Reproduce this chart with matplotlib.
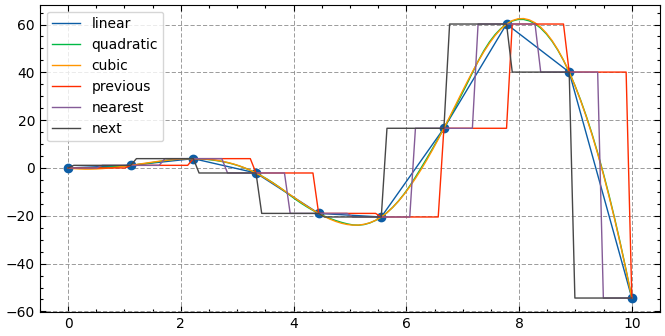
import numpy as np
import matplotlib
matplotlib.use("Agg")
import matplotlib.pyplot as plt
from matplotlib.ticker import MultipleLocator

# data points
x = np.linspace(0, 10, 10)
y = np.array([0.0, 1.1, 3.9, -2.1, -19.0, -20.5, 16.6, 60.2, 40.1, -54.4])
xnew = np.linspace(0, 10, 100)

labels = ["linear", "quadratic", "cubic", "previous", "nearest", "next"]
colors = ["#0C5DA5", "#00B945", "#FF9500", "#FF2C00", "#845B97", "#474747"]


def bspl_matrix(t, k, xs):
    xs = np.asarray(xs, float)
    B = np.zeros((len(xs), len(t) - 1))
    for i in range(len(t) - 1):
        if t[i] < t[i + 1]:
            B[:, i] = ((xs >= t[i]) & (xs < t[i + 1])).astype(float)
    last = np.max(np.nonzero(t[:-1] < t[1:])[0])
    B[xs >= t[-1], last] = 1.0
    for d in range(1, k + 1):
        Bn = np.zeros((len(xs), len(t) - 1 - d))
        for i in range(len(t) - 1 - d):
            den1 = t[i + d] - t[i]
            den2 = t[i + d + 1] - t[i + 1]
            term = np.zeros(len(xs))
            if den1 > 0:
                term += (xs - t[i]) / den1 * B[:, i]
            if den2 > 0:
                term += (t[i + d + 1] - xs) / den2 * B[:, i + 1]
            Bn[:, i] = term
        B = Bn
    return B


def spline(xd, yd, k, xs):
    if k == 2:
        tm = (xd[1:] + xd[:-1]) / 2.0
        t = np.r_[(xd[0],) * 3, tm[1:-1], (xd[-1],) * 3]
    else:
        t = np.r_[(xd[0],) * 4, xd[2:-2], (xd[-1],) * 4]
    A = bspl_matrix(t, k, xd)
    c = np.linalg.solve(A, yd)
    return bspl_matrix(t, k, xs) @ c


def previous(xd, yd, xs):
    xsh = np.nextafter(xd, -np.inf)
    idx = np.searchsorted(xsh, xs, side="left").clip(1, len(xd))
    return yd[idx - 1]


def nxt(xd, yd, xs):
    xsh = np.nextafter(xd, np.inf)
    idx = np.searchsorted(xsh, xs, side="right").clip(0, len(xd) - 1)
    return yd[idx]


def nearest(xd, yd, xs):
    bds = (xd[1:] + xd[:-1]) / 2.0
    idx = np.searchsorted(bds, xs, side="left").clip(0, len(xd) - 1)
    return yd[idx]


curves = [
    np.interp(xnew, x, y),
    spline(x, y, 2, xnew),
    spline(x, y, 3, xnew),
    previous(x, y, xnew),
    nearest(x, y, xnew),
    nxt(x, y, xnew),
]

fig = plt.figure(figsize=(6.65, 3.36), dpi=100)
ax = fig.add_axes([0.060, 0.0714, 0.9325, 0.915])

ax.plot(x, y, "o", color="#0C5DA5", markersize=6)
for lab, col, cv in zip(labels, colors, curves):
    ax.plot(xnew, cv, color=col, lw=1.0, label=lab)

ax.xaxis.set_major_locator(MultipleLocator(2))
ax.xaxis.set_minor_locator(MultipleLocator(0.5))
ax.yaxis.set_major_locator(MultipleLocator(20))
ax.yaxis.set_minor_locator(MultipleLocator(5))
ax.tick_params(which="both", direction="in", top=True, right=True, labelsize=10)
ax.tick_params(which="major", length=4.5, width=0.8)
ax.tick_params(which="minor", length=2.5, width=0.8)
ax.grid(True, which="major", color="0.55", lw=0.6, linestyle=(0, (5, 2.5)))
ax.set_axisbelow(True)
ax.legend(loc="upper left", fontsize=10)

fig.savefig("out.png", dpi=100)
